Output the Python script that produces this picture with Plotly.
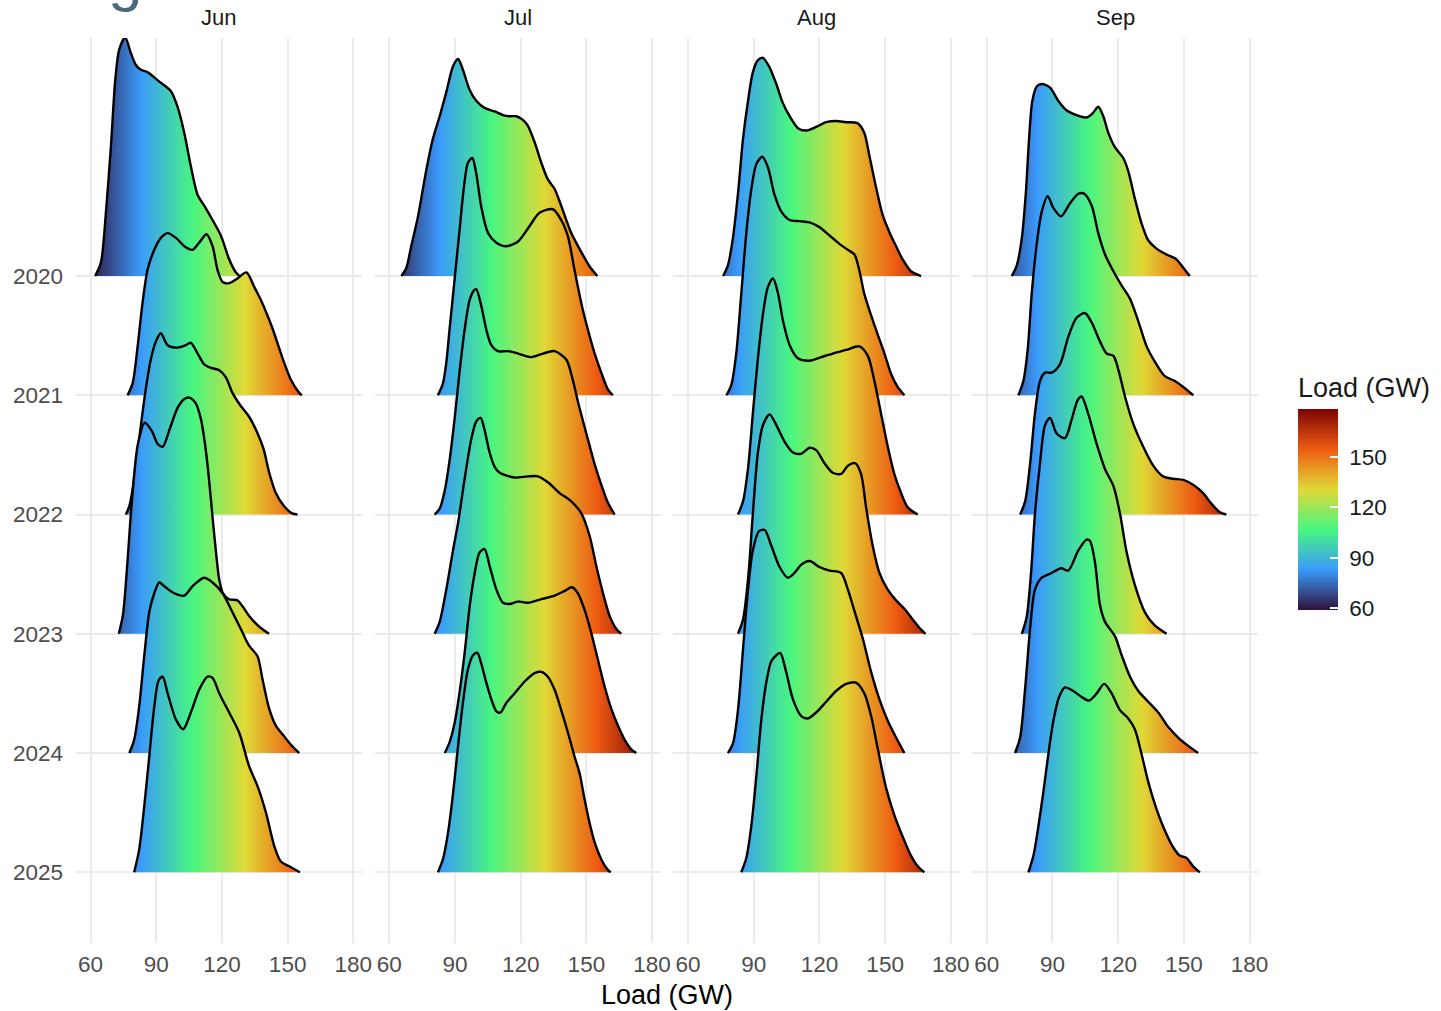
import plotly.graph_objects as go

# ---------------- data (Load in GW, ridge height in row units) ----------------
MONTHS = ["Jun", "Jul", "Aug", "Sep"]
YEARS = ["2020", "2021", "2022", "2023", "2024", "2025"]
X_TICKS = [60, 90, 120, 150, 180]
CBAR_TICKS = [60, 90, 120, 150]

JUN_2020_X = [62.1, 64.7, 67.0, 69.3, 71.3, 73.1, 75.8, 78.4, 80.7, 83.0, 86.0, 91.4, 96.7, 99.7, 102.8, 105.8, 108.9, 111.9, 115.7, 119.5, 123.3, 126.0, 128.0]
JUN_2020_H = [0, 0.11, 0.53, 1.09, 1.65, 1.90, 2.00, 1.87, 1.77, 1.73, 1.71, 1.63, 1.55, 1.42, 1.20, 0.92, 0.68, 0.59, 0.47, 0.34, 0.14, 0.04, 0]
JUN_2021_X = [76.9, 79.2, 81.5, 83.7, 86.0, 89.1, 92.1, 95.2, 99.0, 102.8, 106.6, 109.6, 113.0, 115.7, 118.0, 120.3, 123.3, 127.1, 131.2, 134.7, 138.5, 143.1, 147.7, 151.5, 155.3, 156.5]
JUN_2021_H = [0, 0.10, 0.41, 0.77, 1.05, 1.22, 1.32, 1.36, 1.32, 1.25, 1.22, 1.28, 1.35, 1.25, 1.05, 0.95, 0.94, 0.98, 1.03, 0.91, 0.77, 0.56, 0.31, 0.13, 0.02, 0]
JUN_2022_X = [76.1, 77.7, 79.2, 80.7, 82.2, 83.7, 85.6, 87.5, 89.8, 92.1, 95.2, 99.7, 103.5, 105.8, 108.9, 111.9, 115.0, 118.8, 121.8, 124.8, 128.6, 132.4, 136.3, 139.0, 141.6, 144.6, 148.4, 152.0, 154.5]
JUN_2022_H = [0, 0.07, 0.21, 0.42, 0.63, 0.85, 1.10, 1.30, 1.45, 1.52, 1.42, 1.40, 1.42, 1.44, 1.35, 1.26, 1.23, 1.21, 1.15, 1.02, 0.91, 0.82, 0.68, 0.55, 0.35, 0.18, 0.07, 0.01, 0]
JUN_2023_X = [72.9, 74.8, 76.6, 78.9, 81.6, 84.8, 88.0, 90.7, 93.0, 96.2, 99.9, 103.0, 105.1, 108.1, 110.4, 112.2, 113.8, 115.6, 117.2, 118.8, 120.5, 123.2, 127.1, 129.4, 132.4, 137.0, 141.5]
JUN_2023_H = [0, 0.16, 0.54, 1.12, 1.59, 1.77, 1.70, 1.59, 1.57, 1.72, 1.90, 1.97, 1.98, 1.93, 1.80, 1.60, 1.35, 1.00, 0.70, 0.45, 0.34, 0.29, 0.28, 0.23, 0.15, 0.06, 0]
JUN_2024_X = [77.7, 79.9, 82.2, 84.5, 86.8, 89.1, 91.4, 93.6, 98.2, 102.8, 106.6, 111.9, 115.7, 120.3, 124.8, 129.4, 132.4, 136.3, 138.5, 141.6, 144.6, 148.4, 151.5, 155.3]
JUN_2024_H = [0, 0.11, 0.39, 0.81, 1.18, 1.34, 1.43, 1.40, 1.34, 1.32, 1.40, 1.47, 1.43, 1.34, 1.18, 1.01, 0.90, 0.81, 0.62, 0.37, 0.23, 0.14, 0.07, 0]
JUN_2025_X = [79.9, 82.2, 84.5, 86.8, 89.1, 91.1, 92.9, 95.2, 99.0, 102.3, 105.8, 109.6, 113.4, 115.7, 118.8, 123.3, 127.9, 132.4, 136.3, 140.1, 143.9, 146.9, 150.7, 155.6]
JUN_2025_H = [0, 0.19, 0.55, 0.97, 1.39, 1.61, 1.64, 1.50, 1.28, 1.20, 1.34, 1.53, 1.64, 1.63, 1.50, 1.34, 1.17, 0.89, 0.72, 0.50, 0.22, 0.09, 0.05, 0]

JUL_2020_X = [65.5, 67.8, 70.0, 73.1, 76.9, 79.9, 83.0, 86.0, 89.1, 91.4, 93.6, 96.7, 99.7, 103.5, 108.1, 111.9, 115.0, 118.0, 121.0, 123.3, 126.4, 129.4, 132.4, 135.5, 138.5, 143.1, 147.7, 151.5, 155.0]
JUL_2020_H = [0, 0.07, 0.25, 0.50, 0.89, 1.15, 1.34, 1.54, 1.76, 1.82, 1.73, 1.56, 1.47, 1.41, 1.38, 1.35, 1.34, 1.34, 1.31, 1.26, 1.12, 0.95, 0.81, 0.73, 0.59, 0.36, 0.20, 0.08, 0]
JUL_2021_X = [82.2, 84.5, 86.0, 87.5, 89.8, 92.1, 94.1, 95.9, 97.9, 99.7, 102.0, 105.1, 108.9, 113.4, 118.8, 124.1, 128.6, 134.7, 138.5, 141.6, 144.6, 147.7, 150.7, 153.8, 156.8, 159.8, 162.1]
JUL_2021_H = [0, 0.10, 0.27, 0.55, 0.97, 1.39, 1.75, 1.95, 1.99, 1.86, 1.58, 1.36, 1.28, 1.25, 1.29, 1.42, 1.53, 1.56, 1.47, 1.33, 1.05, 0.77, 0.55, 0.35, 0.19, 0.05, 0]
JUL_2022_X = [80.7, 83.0, 85.3, 87.5, 89.8, 92.1, 94.4, 96.7, 98.7, 99.7, 102.0, 104.3, 106.6, 109.6, 114.2, 118.8, 124.8, 130.2, 135.5, 140.8, 143.5, 146.5, 150.7, 153.8, 156.8, 159.8, 162.9]
JUL_2022_H = [0, 0.05, 0.20, 0.45, 0.80, 1.20, 1.55, 1.80, 1.88, 1.89, 1.75, 1.55, 1.42, 1.37, 1.37, 1.35, 1.32, 1.35, 1.37, 1.30, 1.15, 0.92, 0.63, 0.42, 0.25, 0.10, 0]
JUL_2023_X = [80.7, 83.0, 86.0, 89.1, 91.4, 94.4, 97.4, 99.7, 101.7, 103.5, 105.8, 108.1, 110.4, 117.2, 123.3, 127.9, 132.4, 137.8, 143.1, 147.7, 151.5, 154.5, 157.6, 160.6, 163.7, 165.9]
JUL_2023_H = [0, 0.10, 0.37, 0.70, 0.93, 1.30, 1.63, 1.78, 1.81, 1.71, 1.52, 1.40, 1.35, 1.31, 1.32, 1.32, 1.27, 1.18, 1.11, 1.01, 0.82, 0.57, 0.34, 0.15, 0.04, 0]
JUL_2024_X = [85.3, 87.5, 89.8, 92.1, 94.4, 96.7, 99.0, 101.2, 103.5, 105.8, 108.9, 111.9, 114.9, 118.8, 123.3, 129.4, 135.5, 140.1, 143.4, 146.1, 149.2, 152.2, 155.3, 158.3, 161.4, 164.4, 167.5, 170.5, 172.8]
JUL_2024_H = [0, 0.09, 0.25, 0.51, 0.84, 1.23, 1.51, 1.68, 1.71, 1.57, 1.37, 1.26, 1.25, 1.27, 1.26, 1.29, 1.32, 1.36, 1.39, 1.34, 1.20, 1.01, 0.78, 0.56, 0.37, 0.23, 0.11, 0.03, 0]
JUL_2025_X = [82.2, 84.5, 86.8, 89.1, 91.4, 93.6, 95.9, 98.2, 100.2, 102.0, 104.3, 106.6, 108.9, 110.8, 113.4, 117.2, 121.8, 126.4, 129.4, 132.4, 135.5, 138.5, 141.6, 144.6, 146.9, 149.2, 151.5, 153.8, 156.8, 159.8, 161.1]
JUL_2025_H = [0, 0.11, 0.33, 0.66, 1.06, 1.42, 1.70, 1.82, 1.84, 1.75, 1.59, 1.45, 1.35, 1.34, 1.42, 1.50, 1.60, 1.67, 1.68, 1.64, 1.53, 1.36, 1.17, 0.97, 0.83, 0.61, 0.41, 0.25, 0.11, 0.02, 0]

AUG_2020_X = [76.0, 78.2, 80.5, 82.8, 85.1, 87.4, 89.6, 91.9, 94.2, 97.2, 100.3, 103.3, 106.4, 110.2, 114.0, 118.5, 123.1, 127.6, 132.2, 137.5, 140.5, 142.8, 145.9, 148.9, 151.9, 155.0, 158.0, 161.8, 166.4]
AUG_2020_H = [0, 0.09, 0.32, 0.69, 1.15, 1.47, 1.71, 1.81, 1.83, 1.75, 1.61, 1.45, 1.34, 1.24, 1.22, 1.25, 1.29, 1.30, 1.29, 1.28, 1.20, 1.01, 0.74, 0.51, 0.37, 0.25, 0.14, 0.04, 0]
AUG_2021_X = [77.5, 79.8, 82.0, 84.3, 86.6, 88.9, 91.2, 93.9, 96.5, 99.5, 102.6, 106.4, 110.9, 115.5, 120.0, 124.6, 129.1, 132.9, 136.0, 138.3, 140.5, 143.6, 146.6, 149.7, 152.7, 155.7, 158.8]
AUG_2021_H = [0, 0.09, 0.35, 0.85, 1.36, 1.73, 1.94, 2.00, 1.91, 1.68, 1.54, 1.47, 1.46, 1.45, 1.41, 1.34, 1.27, 1.22, 1.18, 1.04, 0.85, 0.67, 0.51, 0.35, 0.18, 0.07, 0]
AUG_2022_X = [82.8, 85.1, 87.4, 89.6, 91.9, 94.2, 96.5, 98.8, 101.0, 103.3, 106.4, 110.2, 115.5, 120.8, 126.1, 132.2, 138.3, 142.1, 145.1, 148.1, 151.2, 154.2, 157.3, 160.3, 164.9]
AUG_2022_H = [0, 0.11, 0.39, 0.85, 1.31, 1.68, 1.91, 1.98, 1.86, 1.63, 1.42, 1.31, 1.29, 1.32, 1.35, 1.38, 1.41, 1.33, 1.12, 0.85, 0.57, 0.34, 0.18, 0.06, 0]
AUG_2023_X = [82.8, 85.1, 87.4, 89.6, 91.9, 94.2, 97.2, 100.3, 104.1, 107.9, 111.7, 115.5, 118.5, 122.3, 126.1, 129.9, 133.0, 136.4, 139.0, 141.3, 144.3, 147.4, 151.2, 155.0, 158.8, 162.6, 165.6, 168.4]
AUG_2023_H = [0, 0.12, 0.46, 1.01, 1.52, 1.75, 1.84, 1.75, 1.61, 1.52, 1.51, 1.56, 1.54, 1.43, 1.35, 1.34, 1.41, 1.43, 1.34, 1.06, 0.74, 0.51, 0.37, 0.28, 0.21, 0.12, 0.05, 0]
AUG_2024_X = [78.2, 80.5, 82.8, 85.1, 87.4, 89.6, 92.4, 95.0, 98.0, 101.8, 105.6, 108.6, 111.7, 115.5, 120.0, 124.6, 129.9, 133.0, 136.0, 139.8, 143.6, 147.4, 151.2, 155.0, 158.8]
AUG_2024_H = [0, 0.08, 0.36, 0.87, 1.37, 1.70, 1.86, 1.87, 1.74, 1.56, 1.47, 1.51, 1.58, 1.61, 1.56, 1.53, 1.51, 1.37, 1.19, 0.96, 0.68, 0.45, 0.27, 0.13, 0]
AUG_2025_X = [84.3, 86.6, 88.9, 91.2, 93.4, 95.7, 98.0, 100.3, 102.1, 104.8, 107.9, 111.7, 114.7, 118.5, 123.1, 127.6, 132.2, 136.7, 140.5, 143.6, 146.6, 150.4, 154.2, 158.0, 161.8, 164.9, 167.9]
AUG_2025_H = [0, 0.12, 0.39, 0.81, 1.27, 1.59, 1.77, 1.82, 1.84, 1.68, 1.45, 1.31, 1.29, 1.34, 1.43, 1.52, 1.58, 1.59, 1.50, 1.31, 1.04, 0.71, 0.48, 0.30, 0.14, 0.05, 0]

SEP_2020_X = [71.4, 73.7, 76.0, 77.8, 79.3, 80.8, 82.8, 85.1, 88.9, 92.6, 96.4, 101.0, 105.6, 108.6, 110.9, 113.2, 115.5, 118.5, 122.3, 124.6, 127.6, 130.7, 133.7, 137.5, 142.1, 146.6, 149.7, 152.7]
SEP_2020_H = [0, 0.09, 0.32, 0.69, 1.15, 1.47, 1.59, 1.61, 1.58, 1.47, 1.39, 1.35, 1.33, 1.37, 1.42, 1.34, 1.20, 1.08, 0.99, 0.88, 0.65, 0.44, 0.30, 0.23, 0.18, 0.14, 0.07, 0]
SEP_2021_X = [74.4, 76.7, 78.7, 80.5, 82.8, 85.1, 87.8, 90.4, 93.9, 98.0, 101.8, 104.5, 107.9, 110.9, 114.0, 117.8, 121.6, 125.4, 129.2, 133.0, 136.8, 141.3, 145.9, 149.7, 154.3]
SEP_2021_H = [0, 0.12, 0.39, 0.85, 1.27, 1.54, 1.67, 1.57, 1.50, 1.61, 1.69, 1.69, 1.59, 1.36, 1.18, 1.04, 0.92, 0.81, 0.62, 0.41, 0.28, 0.16, 0.12, 0.07, 0]
SEP_2022_X = [75.2, 77.5, 79.8, 82.0, 84.3, 86.6, 89.6, 93.4, 97.2, 101.0, 104.8, 107.9, 111.7, 114.7, 117.8, 120.0, 123.1, 126.9, 131.4, 136.0, 140.5, 145.1, 149.7, 154.2, 158.8, 162.6, 166.4, 169.4]
SEP_2022_H = [0, 0.11, 0.43, 0.85, 1.12, 1.19, 1.19, 1.26, 1.49, 1.65, 1.69, 1.61, 1.45, 1.35, 1.33, 1.22, 0.99, 0.76, 0.57, 0.41, 0.32, 0.30, 0.29, 0.25, 0.18, 0.09, 0.02, 0]
SEP_2023_X = [76.0, 78.2, 80.2, 82.0, 84.3, 86.6, 88.9, 91.9, 95.7, 98.8, 101.5, 103.3, 106.4, 110.2, 114.0, 117.8, 120.8, 123.8, 127.6, 132.2, 136.7, 142.1]
SEP_2023_H = [0, 0.14, 0.51, 1.01, 1.43, 1.75, 1.81, 1.68, 1.64, 1.80, 1.96, 1.99, 1.84, 1.59, 1.38, 1.24, 1.01, 0.69, 0.41, 0.18, 0.07, 0]
SEP_2024_X = [72.9, 75.2, 77.5, 79.8, 82.0, 85.1, 89.6, 93.9, 97.2, 101.8, 105.6, 107.1, 109.4, 111.7, 114.0, 118.5, 121.6, 125.4, 129.2, 133.7, 138.3, 142.8, 147.4, 152.0, 156.5]
SEP_2024_H = [0, 0.13, 0.54, 1.05, 1.37, 1.47, 1.51, 1.55, 1.53, 1.70, 1.79, 1.78, 1.60, 1.24, 1.10, 0.98, 0.82, 0.64, 0.52, 0.43, 0.34, 0.22, 0.13, 0.06, 0]
SEP_2025_X = [79.0, 81.3, 83.6, 85.8, 88.1, 90.4, 93.0, 95.7, 99.5, 103.3, 106.7, 110.2, 113.6, 117.0, 120.8, 124.6, 127.6, 130.7, 133.7, 137.5, 141.3, 145.1, 148.1, 151.2, 154.2, 157.3]
SEP_2025_H = [0, 0.14, 0.39, 0.67, 0.99, 1.27, 1.47, 1.55, 1.52, 1.47, 1.44, 1.50, 1.58, 1.50, 1.36, 1.29, 1.20, 0.99, 0.76, 0.53, 0.35, 0.21, 0.14, 0.12, 0.05, 0]

RIDGES = {
    "Jun": [(JUN_2020_X, JUN_2020_H), (JUN_2021_X, JUN_2021_H), (JUN_2022_X, JUN_2022_H),
            (JUN_2023_X, JUN_2023_H), (JUN_2024_X, JUN_2024_H), (JUN_2025_X, JUN_2025_H)],
    "Jul": [(JUL_2020_X, JUL_2020_H), (JUL_2021_X, JUL_2021_H), (JUL_2022_X, JUL_2022_H),
            (JUL_2023_X, JUL_2023_H), (JUL_2024_X, JUL_2024_H), (JUL_2025_X, JUL_2025_H)],
    "Aug": [(AUG_2020_X, AUG_2020_H), (AUG_2021_X, AUG_2021_H), (AUG_2022_X, AUG_2022_H),
            (AUG_2023_X, AUG_2023_H), (AUG_2024_X, AUG_2024_H), (AUG_2025_X, AUG_2025_H)],
    "Sep": [(SEP_2020_X, SEP_2020_H), (SEP_2021_X, SEP_2021_H), (SEP_2022_X, SEP_2022_H),
            (SEP_2023_X, SEP_2023_H), (SEP_2024_X, SEP_2024_H), (SEP_2025_X, SEP_2025_H)],
}

LOAD_MIN, LOAD_MAX = 59.0, 178.5

# six-stop turbo palette (as used by ggplot's viridis "turbo" continuous scale)
TURBO6 = [[0.0, "#30123b"], [0.2, "#3b9afb"], [0.4, "#48f680"],
          [0.6, "#e0d936"], [0.8, "#ee5b12"], [1.0, "#7a0403"]]

# ---------------- figure ----------------
FONT = "Liberation Sans, Arial, sans-serif"
fig = go.Figure()

W, H = 1441, 1011
ML, MR, MT, MB = 76, 182, 38, 68
plot_w = W - ML - MR
plot_h = H - MT - MB
panel_w, gap = 286, 13
domains = []
for i in range(4):
    x0 = i * (panel_w + gap) / plot_w
    x1 = (i * (panel_w + gap) + panel_w) / plot_w
    domains.append([x0, min(x1, 1.0)])

n_years = len(YEARS)
for i, month in enumerate(MONTHS):
    ax = "" if i == 0 else str(i + 1)
    for j, (xs, hs) in enumerate(RIDGES[month]):
        base = n_years - 1 - j
        fig.add_trace(go.Scatter(
            x=xs, y=[base + h for h in hs],
            mode="lines",
            line=dict(color="black", width=2.4, shape="spline", smoothing=0.8),
            fill="toself",
            fillgradient=dict(type="horizontal", colorscale=TURBO6,
                              start=LOAD_MIN, stop=LOAD_MAX),
            xaxis="x" + ax, yaxis="y" + ax,
            hoverinfo="skip", showlegend=False,
        ))

# colour bar carrier
cb_len = 236
cb_center = 610 - cb_len / 2
pad = '<span style="color:rgba(0,0,0,0)">.</span>'
fig.add_trace(go.Scatter(
    x=[None], y=[None], mode="markers",
    marker=dict(color=[LOAD_MIN], colorscale=TURBO6, cmin=LOAD_MIN, cmax=LOAD_MAX,
                showscale=True,
                colorbar=dict(
                    title=dict(text="Load (GW)", side="top",
                               font=dict(size=27, color="#1a1a1a", family=FONT)),
                    thicknessmode="pixels", thickness=40,
                    lenmode="pixels", len=cb_len,
                    x=1 + (1298 - (W - MR)) / plot_w, xanchor="left",
                    y=(H - MB - cb_center) / plot_h, yanchor="middle",
                    xpad=0, ypad=0, outlinewidth=0,
                    tickmode="array", tickvals=CBAR_TICKS,
                    ticktext=[pad + str(v) for v in CBAR_TICKS],
                    ticks="inside", ticklen=8,
                    tickcolor="white", tickwidth=1.5,
                    tickfont=dict(size=22.5, color="#1a1a1a", family=FONT),
                )),
    showlegend=False, hoverinfo="skip",
))

layout = dict(
    width=W, height=H,
    margin=dict(l=ML, r=MR, t=MT, b=MB),
    paper_bgcolor="white", plot_bgcolor="white",
    font=dict(family=FONT, color="#4d4d4d"),
    showlegend=False,
)
xr = [53.35, 183.85]
yr = [-0.593, 6.996]
for i in range(4):
    ax = "" if i == 0 else str(i + 1)
    layout["xaxis" + ax] = dict(
        domain=domains[i], range=xr, anchor="y" + ax,
        tickvals=X_TICKS, showgrid=True, gridcolor="#EBEBEB", gridwidth=2,
        zeroline=False, showline=False, ticks="",
        tickfont=dict(size=22.5, color="#4d4d4d"), ticklabelstandoff=5,
    )
    layout["yaxis" + ax] = dict(
        domain=[0, 1], range=yr, anchor="x" + ax,
        tickvals=list(range(n_years)), ticktext=YEARS[::-1],
        showticklabels=(i == 0),
        showgrid=True, gridcolor="#EBEBEB", gridwidth=2,
        zeroline=False, showline=False, ticks="",
        tickfont=dict(size=22.5, color="#4d4d4d"), ticklabelstandoff=12,
    )

annotations = []
for i, month in enumerate(MONTHS):
    annotations.append(dict(
        text=month, xref="paper", yref="paper",
        x=(domains[i][0] + domains[i][1]) / 2, y=1,
        xanchor="center", yanchor="middle", yshift=21,
        showarrow=False, font=dict(size=22, color="#1a1a1a"),
    ))
annotations.append(dict(
    text="Load (GW)", xref="paper", yref="paper", x=0.5, y=0,
    xanchor="center", yanchor="middle", yshift=-52, showarrow=False,
    font=dict(size=27, color="#000000"), borderpad=0,
))
annotations.append(dict(
    text="g", xref="paper", yref="paper", x=(125 - ML) / plot_w, y=1,
    xanchor="center", yanchor="bottom", yshift=24, showarrow=False,
    font=dict(size=62, color="#4b6a80"),
))
layout["annotations"] = annotations
fig.update_layout(**layout)

fig.write_html("out.html")
